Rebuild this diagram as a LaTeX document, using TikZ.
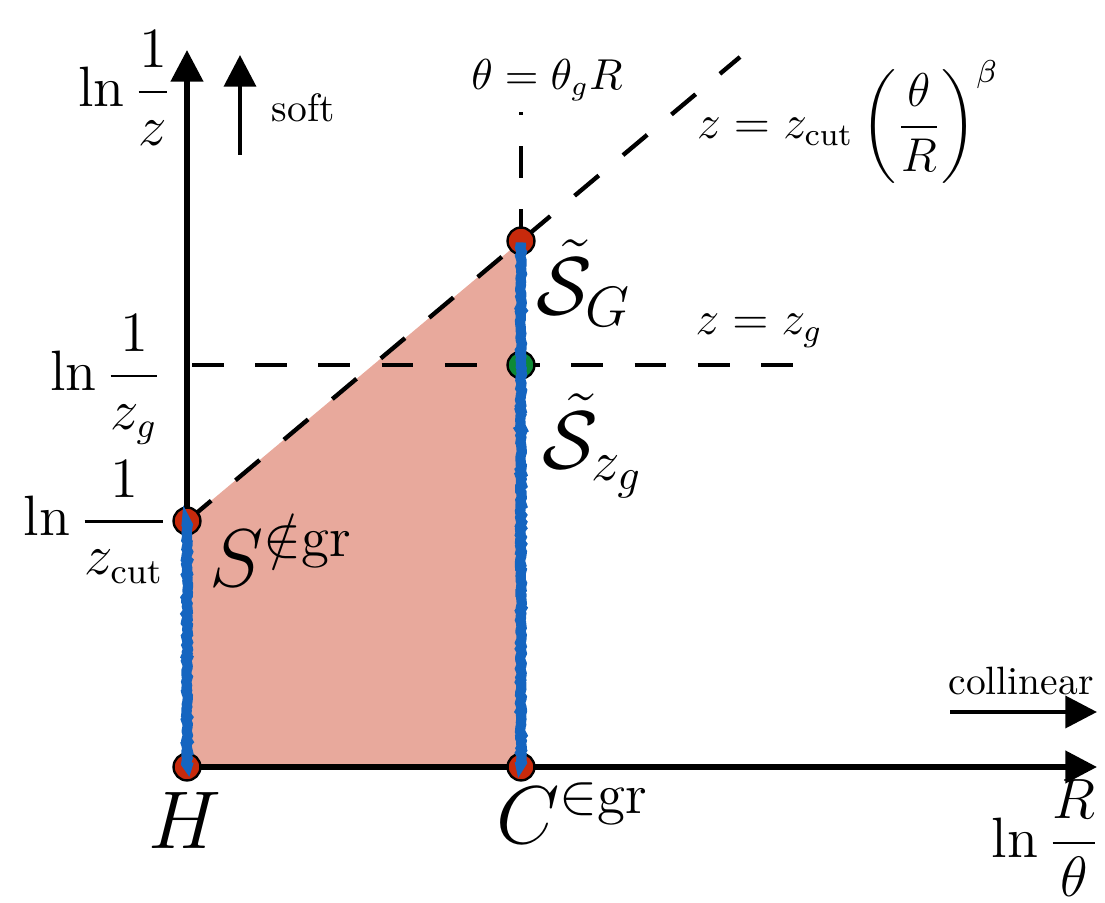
\documentclass[tikz,border=0pt]{standalone}
\usepackage{amsmath}
\usetikzlibrary{arrows.meta,positioning,decorations.pathmorphing}
\definecolor{grRed}{HTML}{C82A0C}
\definecolor{grGreen}{HTML}{0E8A35}
\definecolor{grBlue}{HTML}{1565C0}
\definecolor{grFill}{HTML}{E8A99C}
\tikzset{
  >={Triangle[length=8pt,width=8pt]},
  axis/.style={->, line width=1.4pt},
  hint/.style={->, line width=1.2pt},
  cut/.style={line width=1.1pt, dash pattern=on 8pt off 8pt},
  pt/.style={circle, draw=black, line width=0.6pt, inner sep=0pt, minimum size=6.8pt},
  groomed/.style={draw=grBlue, line width=2.6pt, decorate,
              decoration={random steps, segment length=0.6pt, amplitude=0.25pt}},
  big/.style={font=\fontsize{22}{26}\selectfont},
  tick/.style={font=\fontsize{13.5}{16}\selectfont},
  lbl/.style={font=\normalsize},
  mlbl/.style={font=\fontsize{12}{14}\selectfont},
}

\begin{document}
\begin{tikzpicture}[x=0.253pt, y=-0.253pt]
  \useasboundingbox (0,0) rectangle (1105,903);
  % corners of the groomed region
  \coordinate (h) at (187,767);
  \coordinate (s) at (187,521);
  \coordinate (g) at (521,241);
  \coordinate (zg) at (521,365);
  \coordinate (c) at (521,767);
  \coordinate (xend) at (1097,767);
  \coordinate (yend) at (187,50);
  \fill[grFill] (h) -- (s) -- (g) -- (c) -- cycle;
  % axes and cuts
  \draw[axis] (h) -- (xend);
  \draw[axis] (h) -- (yend);
  \coordinate (dend) at (740,57);
  \coordinate (vend) at (521,112);
  \coordinate (hbeg) at (192,365);
  \coordinate (hend) at (800,365);
  \draw[cut] (s) -- (dend);
  \draw[cut] (g) -- (vend);
  \draw[cut] (hbeg) -- (hend);
  % direction hints
  \coordinate (sa) at (240,155);
  \coordinate (sb) at (240,55);
  \draw[hint] (sa) -- (sb);
  \node[lbl, anchor=west] (soft) at (258,108) {soft};
  \coordinate (ca) at (950,712);
  \coordinate (cb) at (1097,712);
  \draw[hint] (ca) -- (cb);
  \node[lbl] (coll) at (1021,681) {collinear};
  % points
  \node[pt, fill=grRed] (H) at (h) {};
  \node[pt, fill=grRed] (S) at (s) {};
  \node[pt, fill=grRed] (G) at (g) {};
  \node[pt, fill=grGreen] (Z) at (zg) {};
  \node[pt, fill=grRed] (C) at (c) {};
  \draw[groomed, shorten <=1.5pt, shorten >=1.5pt] (S.center) -- (H.center);
  \draw[groomed, shorten <=1.5pt, shorten >=1.5pt] (G.center) -- (C.center);
  % axis labels
  \node[tick] (ly) at (125,88) {$\ln\dfrac{1}{z}$};
  \node[tick] (lzg) at (106,380) {$\ln\dfrac{1}{z_g}$};
  \node[tick] (lzc) at (96,522) {$\ln\dfrac{1}{z_{\mathrm{cut}}}$};
  \node[tick, inner sep=1pt] (lx) at (1046,838) {$\ln\dfrac{R}{\theta}$};
  \node[lbl, font=\fontsize{10.5}{12}\selectfont] (lth) at (547,80) {$\theta=\theta_g R$};
  \node[mlbl] (lsd) at (848,122) {$z=z_{\mathrm{cut}}\left(\dfrac{\theta}{R}\right)^{\beta}$};
  \node[mlbl] (lzz) at (759,331) {$z=z_g$};
  % point labels
  \node[big] (tH) at (185,820) {$H$};
  \node[big] (tC) at (573,813) {$C^{\in\mathrm{gr}}$};
  \node[big] (tS) at (281,550) {$S^{\notin\mathrm{gr}}$};
  \node[big] (tG) at (584,283) {$\tilde{\mathcal{S}}_G$};
  \node[big] (tZ) at (593,446) {$\tilde{\mathcal{S}}_{z_g}$};
\end{tikzpicture}
\end{document}
